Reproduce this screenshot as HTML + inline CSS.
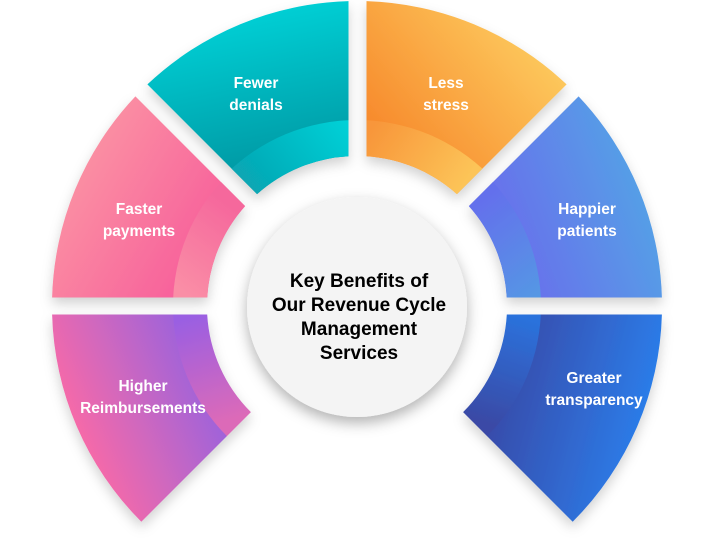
<!DOCTYPE html>
<html><head><meta charset="utf-8"><style>
html,body{margin:0;padding:0;background:#fff;}
svg{display:block;}
.lbl{font-family:"Liberation Sans",sans-serif;font-weight:bold;font-size:15.5px;fill:#fff;text-anchor:middle;}
.ctr{font-family:"Liberation Sans",sans-serif;font-weight:bold;font-size:19px;fill:#000;text-anchor:middle;}
</style></head><body>
<svg width="715" height="538" viewBox="0 0 715 538" xmlns="http://www.w3.org/2000/svg">
<defs>
<filter id="sh" x="-20%" y="-20%" width="140%" height="140%"><feDropShadow dx="0" dy="6" stdDeviation="6" flood-color="#000" flood-opacity="0.18"/></filter>
<filter id="csh" x="-30%" y="-30%" width="160%" height="160%"><feDropShadow dx="0" dy="6" stdDeviation="7" flood-color="#000" flood-opacity="0.3"/></filter>
<linearGradient id="gT" gradientUnits="userSpaceOnUse" x1="250" y1="0" x2="290" y2="190"><stop offset="0" stop-color="#01d4d9"/><stop offset="1" stop-color="#03909c"/></linearGradient>
<linearGradient id="gTb" gradientUnits="userSpaceOnUse" x1="350" y1="120" x2="260" y2="195"><stop offset="0" stop-color="#00d2d8"/><stop offset="1" stop-color="#07a7b4"/></linearGradient>
<linearGradient id="gO" gradientUnits="userSpaceOnUse" x1="540" y1="40" x2="400" y2="160"><stop offset="0" stop-color="#fdca5e"/><stop offset="1" stop-color="#f78a2c"/></linearGradient>
<linearGradient id="gOb" gradientUnits="userSpaceOnUse" x1="370" y1="130" x2="460" y2="190"><stop offset="0" stop-color="#f8963a"/><stop offset="1" stop-color="#fcc458"/></linearGradient>
<linearGradient id="gP" gradientUnits="userSpaceOnUse" x1="60" y1="150" x2="230" y2="250"><stop offset="0" stop-color="#fb97a4"/><stop offset="1" stop-color="#f75a9a"/></linearGradient>
<linearGradient id="gPb" gradientUnits="userSpaceOnUse" x1="180" y1="290" x2="240" y2="210"><stop offset="0" stop-color="#fa8ea6"/><stop offset="1" stop-color="#f5679c"/></linearGradient>
<linearGradient id="gB" gradientUnits="userSpaceOnUse" x1="660" y1="200" x2="500" y2="260"><stop offset="0" stop-color="#54a3e6"/><stop offset="1" stop-color="#6a6cec"/></linearGradient>
<linearGradient id="gBb" gradientUnits="userSpaceOnUse" x1="470" y1="210" x2="540" y2="297"><stop offset="0" stop-color="#6470ec"/><stop offset="1" stop-color="#5598e4"/></linearGradient>
<linearGradient id="gM" gradientUnits="userSpaceOnUse" x1="70" y1="430" x2="230" y2="360"><stop offset="0" stop-color="#fa6aa6"/><stop offset="1" stop-color="#8a62e6"/></linearGradient>
<linearGradient id="gMb" gradientUnits="userSpaceOnUse" x1="200" y1="315" x2="230" y2="420"><stop offset="0" stop-color="#9a5fe2"/><stop offset="1" stop-color="#dc6ab8"/></linearGradient>
<linearGradient id="gD" gradientUnits="userSpaceOnUse" x1="470" y1="380" x2="660" y2="430"><stop offset="0" stop-color="#3a429e"/><stop offset="1" stop-color="#2a82f0"/></linearGradient>
<linearGradient id="gDb" gradientUnits="userSpaceOnUse" x1="515" y1="315" x2="480" y2="420"><stop offset="0" stop-color="#2b72dc"/><stop offset="1" stop-color="#3a4aa6"/></linearGradient>
<clipPath id="cT"><path d="M147.4,84.4 A305,305 0 0 1 348.5,1.1 L348.5,156.2 A150,150 0 0 0 257.1,194.1 Z"/></clipPath>
<clipPath id="cO"><path d="M366.5,1.1 A305,305 0 0 1 566.6,84.4 L456.9,194.1 A150,150 0 0 0 366.5,156.2 Z"/></clipPath>
<clipPath id="cP"><path d="M135.4,96.4 L245.1,206.1 A150,150 0 0 0 207.2,297.5 L52.1,297.5 A305,305 0 0 1 135.4,96.4 Z"/></clipPath>
<clipPath id="cB"><path d="M578.6,96.4 A305,305 0 0 1 661.9,297.5 L506.8,297.5 A150,150 0 0 0 468.9,206.1 Z"/></clipPath>
<clipPath id="cM"><path d="M52.1,314.5 L207.2,314.5 A150,150 0 0 0 250.9,412.1 L141.3,521.7 A305,305 0 0 1 52.1,314.5 Z"/></clipPath>
<clipPath id="cD"><path d="M506.8,314.5 L661.9,314.5 A305,305 0 0 1 572.7,521.7 L463.1,412.1 A150,150 0 0 0 506.8,314.5 Z"/></clipPath>
</defs>
<g filter="url(#sh)">
<g clip-path="url(#cT)"><rect width="715" height="538" fill="url(#gT)"/><circle cx="357" cy="306" r="186" fill="url(#gTb)"/></g>
<g clip-path="url(#cO)"><rect width="715" height="538" fill="url(#gO)"/><circle cx="357" cy="306" r="186" fill="url(#gOb)"/></g>
<g clip-path="url(#cP)"><rect width="715" height="538" fill="url(#gP)"/><circle cx="357" cy="306" r="184" fill="url(#gPb)"/></g>
<g clip-path="url(#cB)"><rect width="715" height="538" fill="url(#gB)"/><circle cx="357" cy="306" r="184" fill="url(#gBb)"/></g>
<g clip-path="url(#cM)"><rect width="715" height="538" fill="url(#gM)"/><circle cx="357" cy="306" r="184" fill="url(#gMb)"/></g>
<g clip-path="url(#cD)"><rect width="715" height="538" fill="url(#gD)"/><circle cx="357" cy="306" r="184" fill="url(#gDb)"/></g>
</g>
<circle cx="357" cy="307" r="110" fill="#f4f4f4" filter="url(#csh)"/>
<text class="ctr" x="359" y="287">Key Benefits of</text>
<text class="ctr" x="359" y="311">Our Revenue Cycle</text>
<text class="ctr" x="359" y="335">Management</text>
<text class="ctr" x="359" y="359">Services</text>
<text class="lbl" x="256" y="88">Fewer</text>
<text class="lbl" x="256" y="110">denials</text>
<text class="lbl" x="446" y="88">Less</text>
<text class="lbl" x="446" y="110">stress</text>
<text class="lbl" x="139" y="214">Faster</text>
<text class="lbl" x="139" y="236">payments</text>
<text class="lbl" x="587" y="214">Happier</text>
<text class="lbl" x="587" y="236">patients</text>
<text class="lbl" x="143" y="391">Higher</text>
<text class="lbl" x="143" y="413">Reimbursements</text>
<text class="lbl" x="594" y="383">Greater</text>
<text class="lbl" x="594" y="405">transparency</text>
</svg>
</body></html>
